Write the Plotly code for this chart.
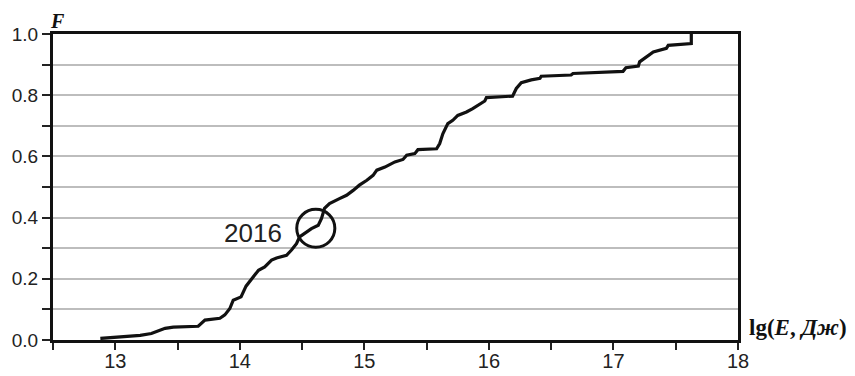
import plotly.graph_objects as go

# Cumulative distribution F of lg(E, J)
lgE = [12.88, 13.06, 13.2, 13.29, 13.345, 13.40, 13.466, 13.666, 13.72, 13.84, 13.88, 13.92,
       13.947, 14.01, 14.05, 14.095, 14.15, 14.2, 14.255, 14.295, 14.375, 14.415, 14.455,
       14.48, 14.535, 14.575, 14.63, 14.656, 14.68, 14.72, 14.80, 14.857, 14.91, 14.96,
       15.02, 15.07, 15.1, 15.165, 15.245, 15.31, 15.34, 15.405, 15.43, 15.58, 15.605,
       15.63, 15.67, 15.71, 15.75, 15.82, 15.87, 15.91, 15.967, 15.98, 16.19, 16.22,
       16.26, 16.34, 16.41, 16.42, 16.66, 16.675, 17.077, 17.10, 17.20, 17.21, 17.265,
       17.32, 17.425, 17.44, 17.625, 17.625]
F = [0.005, 0.011, 0.015, 0.021, 0.03, 0.038, 0.042, 0.045, 0.065, 0.071, 0.082, 0.103,
     0.13, 0.141, 0.176, 0.201, 0.228, 0.239, 0.261, 0.268, 0.277, 0.294, 0.315,
     0.337, 0.353, 0.364, 0.375, 0.397, 0.43, 0.446, 0.462, 0.473, 0.489, 0.506,
     0.522, 0.538, 0.555, 0.565, 0.582, 0.59, 0.604, 0.609, 0.622, 0.625, 0.642,
     0.674, 0.707, 0.718, 0.734, 0.745, 0.756, 0.767, 0.781, 0.792, 0.797, 0.822,
     0.841, 0.85, 0.855, 0.862, 0.866, 0.871, 0.878, 0.89, 0.895, 0.909, 0.925,
     0.941, 0.953, 0.963, 0.969, 1.0]

x_tick_vals = [12.5, 13, 13.5, 14, 14.5, 15, 15.5, 16, 16.5, 17, 17.5, 18]
x_tick_text = ["", "13", "", "14", "", "15", "", "16", "", "17", "", "18"]
y_tick_vals = [0.0, 0.1, 0.2, 0.3, 0.4, 0.5, 0.6, 0.7, 0.8, 0.9, 1.0]
y_tick_text = ["0.0", "", "0.2", "", "0.4", "", "0.6", "", "0.8", "", "1.0"]

highlight_label = "2016"
highlight_x = 14.61
highlight_y = 0.365
highlight_rx = 0.153
highlight_ry = 0.062

fig = go.Figure()
fig.add_trace(go.Scatter(x=lgE, y=F, mode="lines",
                         line=dict(color="#111111", width=3.2),
                         showlegend=False, hoverinfo="skip"))

fig.add_shape(type="circle", xref="x", yref="y",
              x0=highlight_x - highlight_rx, x1=highlight_x + highlight_rx,
              y0=highlight_y - highlight_ry, y1=highlight_y + highlight_ry,
              line=dict(color="#111111", width=3))
fig.add_annotation(x=highlight_x - highlight_rx - 0.1, y=highlight_y - 0.015,
                   xref="x", yref="y", text=highlight_label, showarrow=False,
                   xanchor="right", yanchor="middle",
                   font=dict(family="Liberation Sans, Arial", size=26, color="#222222"))

fig.add_annotation(x=0, y=1, xref="paper", yref="paper", text="<b><i>F</i></b>",
                   showarrow=False, xanchor="left", yanchor="middle", xshift=-4, yshift=13,
                   borderpad=0,
                   font=dict(family="Liberation Serif, Times New Roman", size=20, color="#111111"))
fig.add_annotation(x=1, y=0, xref="paper", yref="paper",
                   text="<b>lg(<i>E</i>, <i>Дж</i>)</b>",
                   showarrow=False, xanchor="left", yanchor="middle", xshift=9, yshift=13,
                   font=dict(family="Liberation Serif, Times New Roman", size=23, color="#111111"))

fig.update_xaxes(range=[12.5, 18], tickmode="array", tickvals=x_tick_vals, ticktext=x_tick_text,
                 ticks="outside", ticklen=7, tickwidth=1.5, tickcolor="#222222",
                 showline=True, linecolor="#111111", linewidth=3, mirror=True,
                 showgrid=False, zeroline=False, automargin=False,
                 ticklabelstandoff=-6,
                 tickfont=dict(family="Liberation Sans, Arial", size=20, color="#222222"))
fig.update_yaxes(range=[0, 1], tickmode="array", tickvals=y_tick_vals, ticktext=y_tick_text,
                 ticks="outside", ticklen=8, tickwidth=1.5, tickcolor="#222222",
                 showline=True, linecolor="#111111", linewidth=3, mirror=True,
                 showgrid=True, gridcolor="#bdbdbd", gridwidth=1.5, zeroline=False,
                 ticklabelstandoff=0, automargin=False,
                 tickfont=dict(family="Liberation Sans, Arial", size=19, color="#222222"))

# page body has an 8px default margin; margins compensate so the plot lands where the reference has it
fig.update_layout(width=855, height=376,
                  margin=dict(l=45, r=125, t=26, b=44, autoexpand=False),
                  paper_bgcolor="white", plot_bgcolor="white")

fig.write_html("out.html")
